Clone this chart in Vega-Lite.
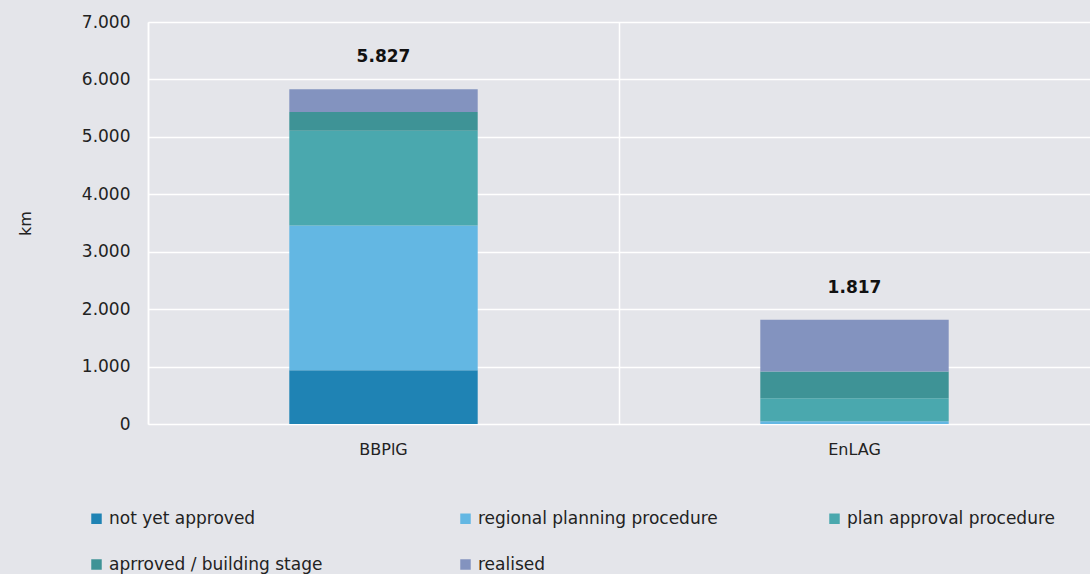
{
  "$schema": "https://vega.github.io/schema/vega-lite/v6.json",
  "width": 942,
  "height": 402,
  "autosize": "none",
  "padding": {"left": 148, "top": 22, "right": 0, "bottom": 150},
  "background": "#e4e5ea",
  "config": {
    "view": {"stroke": null},
    "font": "DejaVu Sans",
    "axis": {"labelFont": "DejaVu Sans", "labelColor": "#222222", "titleColor": "#222222"}
  },
  "datasets": {
    "stack": [
      {"project": "BBPlG", "status": "not yet approved", "idx": 1, "km": 935},
      {"project": "BBPlG", "status": "regional planning procedure", "idx": 2, "km": 2520},
      {"project": "BBPlG", "status": "plan approval procedure", "idx": 3, "km": 1650},
      {"project": "BBPlG", "status": "aprroved / building stage", "idx": 4, "km": 330},
      {"project": "BBPlG", "status": "realised", "idx": 5, "km": 392},
      {"project": "EnLAG", "status": "not yet approved", "idx": 1, "km": 0},
      {"project": "EnLAG", "status": "regional planning procedure", "idx": 2, "km": 50},
      {"project": "EnLAG", "status": "plan approval procedure", "idx": 3, "km": 400},
      {"project": "EnLAG", "status": "aprroved / building stage", "idx": 4, "km": 465},
      {"project": "EnLAG", "status": "realised", "idx": 5, "km": 902}
    ],
    "totals": [
      {"project": "BBPlG", "total": 5827, "label": "5.827"},
      {"project": "EnLAG", "total": 1817, "label": "1.817"}
    ]
  },
  "layer": [
    {
      "data": {"name": "stack"},
      "mark": {"type": "bar", "width": {"band": 0.4}},
      "encoding": {
        "x": {
          "field": "project", "type": "nominal", "sort": ["BBPlG", "EnLAG"],
          "scale": {"paddingInner": 0, "paddingOuter": 0},
          "axis": {
            "orient": "top", "title": null, "labels": false, "ticks": false, "domain": false,
            "grid": true, "bandPosition": 0, "gridColor": "#ffffff", "gridWidth": 1.5, "gridOpacity": 1
          }
        },
        "y": {
          "field": "km", "type": "quantitative", "stack": "zero",
          "scale": {"domain": [0, 7000]},
          "axis": {
            "title": "km", "titleFontSize": 16, "titleFontWeight": "normal", "titlePadding": 48,
            "values": [0, 1000, 2000, 3000, 4000, 5000, 6000, 7000],
            "labelExpr": "replace(format(datum.value, ','), ',', '.')",
            "labelFontSize": 17, "labelPadding": 18, "ticks": false, "labelOverlap": false,
            "domain": true, "domainColor": "#ffffff", "domainWidth": 1.5,
            "grid": true, "gridColor": "#ffffff", "gridWidth": 1.5, "gridOpacity": 1
          }
        },
        "color": {
          "field": "status", "type": "nominal",
          "scale": {
            "domain": ["not yet approved", "regional planning procedure", "plan approval procedure", "aprroved / building stage", "realised"],
            "range": ["#1f83b4", "#63b7e3", "#4aa8ae", "#3e9396", "#8393bf"]
          },
          "legend": {
            "title": null, "orient": "none", "legendX": -60, "legendY": 488,
            "direction": "horizontal", "columns": 3, "gridAlign": "all",
            "symbolType": "square", "symbolSize": 110, "symbolStrokeWidth": 0,
            "labelFontSize": 17, "labelColor": "#222222", "labelOffset": 4, "labelLimit": 400,
            "columnPadding": 108, "rowPadding": 28
          }
        },
        "order": {"field": "idx", "type": "quantitative", "sort": "ascending"}
      }
    },
    {
      "data": {"name": "totals"},
      "mark": {"type": "text", "fontWeight": "bold", "fontSize": 17, "dy": -32, "baseline": "middle", "color": "#111111"},
      "encoding": {
        "x": {"field": "project", "type": "nominal", "sort": ["BBPlG", "EnLAG"], "axis": null},
        "y": {
          "field": "total", "type": "quantitative",
          "axis": {
            "title": "km", "titleFontSize": 16, "titleFontWeight": "normal", "titlePadding": 48,
            "values": [0, 1000, 2000, 3000, 4000, 5000, 6000, 7000],
            "labelExpr": "replace(format(datum.value, ','), ',', '.')",
            "labelFontSize": 17, "labelPadding": 18, "ticks": false, "labelOverlap": false,
            "domain": true, "domainColor": "#ffffff", "domainWidth": 1.5,
            "grid": true, "gridColor": "#ffffff", "gridWidth": 1.5, "gridOpacity": 1
          }
        },
        "text": {"field": "label"}
      }
    },
    {
      "data": {"name": "totals"},
      "mark": {"type": "tick", "opacity": 0},
      "encoding": {
        "x": {"field": "project", "type": "nominal", "sort": ["BBPlG", "EnLAG"],
          "axis": {"orient": "bottom", "title": null, "labelAngle": 0, "labelFontSize": 16, "labelPadding": 17, "ticks": false, "domain": false, "grid": false}}
      }
    }
  ],
  "resolve": {"axis": {"x": "independent"}}
}
